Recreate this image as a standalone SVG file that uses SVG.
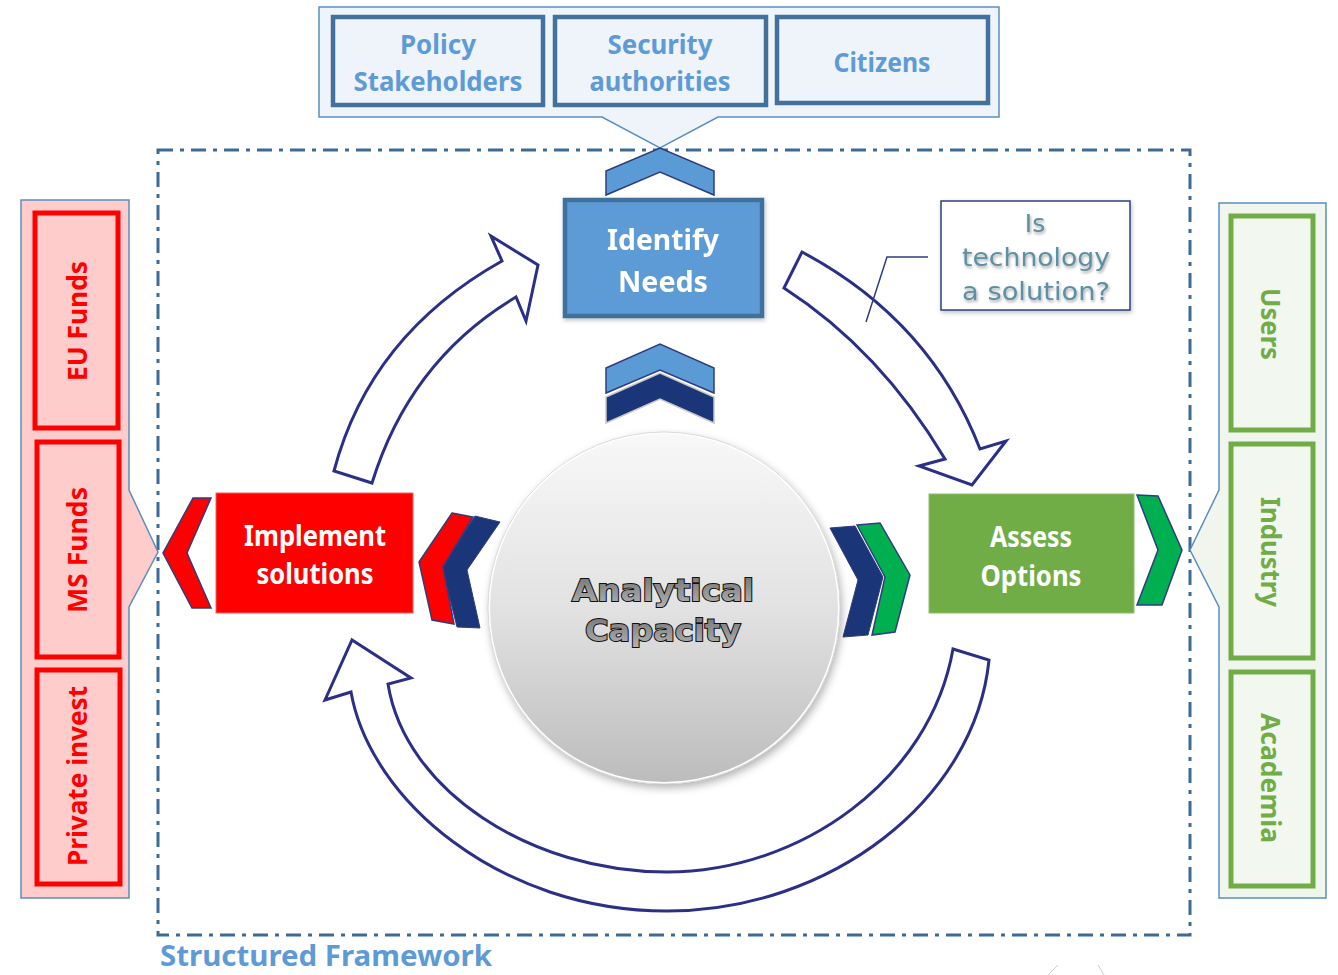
<svg xmlns="http://www.w3.org/2000/svg" width="1338" height="975" viewBox="0 0 1338 975">
<defs>
<style>
.frame{fill:none;stroke:#3d6b97;stroke-width:3;stroke-dasharray:15 7 4 7}
.callout{fill:#eef4fa;stroke:#5b8ec0;stroke-width:1.5}
.cbox{fill:#eef4fa;stroke:#41719c;stroke-width:4.5}
.ctext{font-family:"Noto Sans","Open Sans",sans-serif;font-weight:700;font-size:27px;fill:#5e9bd6;text-anchor:middle}
.btext{font-family:"Noto Sans","Open Sans",sans-serif;font-weight:700;font-size:29px;fill:#ffffff;text-anchor:middle}
.arrow{fill:#ffffff;stroke:#2b2f86;stroke-width:3;stroke-linejoin:miter}
.chev{stroke:#2f3c80;stroke-width:1.5;stroke-linejoin:miter}
.lpanel{fill:#ffcccc;stroke:#5b8ec0;stroke-width:1.5}
.lbox{fill:#ffcccc;stroke:#ff0000;stroke-width:5}
.ltext{font-family:"Noto Sans","Open Sans",sans-serif;font-weight:700;font-size:26px;fill:#ff0000;text-anchor:middle}
.rpanel{fill:#f0f6ee;stroke:#5b8ec0;stroke-width:1.5}
.rbox{fill:#f2f7ef;stroke:#70ad47;stroke-width:5}
.rtext{font-family:"Noto Sans","Open Sans",sans-serif;font-weight:700;font-size:26px;fill:#70ad47;text-anchor:middle}
.qtext{font-family:"DejaVu Sans","Verdana",sans-serif;font-size:25px;fill:#5e8fa3;text-anchor:middle}
</style>
<linearGradient id="sphere" x1="0" y1="0" x2="0" y2="1">
<stop offset="0" stop-color="#f8f8f8"/>
<stop offset="0.5" stop-color="#e2e2e2"/>
<stop offset="1" stop-color="#bcbcbc"/>
</linearGradient>
<linearGradient id="txtgrad" x1="0" y1="0" x2="0" y2="1">
<stop offset="0" stop-color="#6f6f6f"/>
<stop offset="1" stop-color="#b4b4b4"/>
</linearGradient>
<filter id="shadow" x="-20%" y="-20%" width="140%" height="140%">
<feDropShadow dx="2" dy="4" stdDeviation="4" flood-color="#000" flood-opacity="0.3"/>
</filter>
<filter id="tshadow" x="-10%" y="-10%" width="120%" height="130%">
<feDropShadow dx="1" dy="2" stdDeviation="1.5" flood-color="#000" flood-opacity="0.35"/>
</filter>
<filter id="small" x="-20%" y="-20%" width="140%" height="140%">
<feDropShadow dx="1" dy="2" stdDeviation="2" flood-color="#000" flood-opacity="0.25"/>
</filter>
</defs>
<rect width="1338" height="975" fill="#ffffff"/>

<!-- frame -->
<g id="structured-framework">
<rect class="frame" x="158" y="150" width="1032" height="785"/>
<text x="160" y="966" font-family="'Noto Sans','Open Sans',sans-serif" font-weight="700" font-size="29" fill="#5e9bd6" textLength="332" lengthAdjust="spacingAndGlyphs">Structured Framework</text>
</g>

<!-- top callout -->
<g id="stakeholders-panel">
<path class="callout" d="M319,7 H999 V117 H718 L660,148 L602,117 H319 Z"/>
<g id="policy-stakeholders">
<rect class="cbox" x="333" y="17" width="210" height="88"/>
<text class="ctext" x="438" y="54" textLength="76" lengthAdjust="spacingAndGlyphs">Policy</text>
<text class="ctext" x="438" y="91" textLength="169" lengthAdjust="spacingAndGlyphs">Stakeholders</text>
</g>
<g id="security-authorities">
<rect class="cbox" x="555" y="17" width="211" height="88"/>
<text class="ctext" x="660" y="54" textLength="105" lengthAdjust="spacingAndGlyphs">Security</text>
<text class="ctext" x="660" y="91" textLength="141" lengthAdjust="spacingAndGlyphs">authorities</text>
</g>
<g id="citizens">
<rect class="cbox" x="777" y="17" width="211" height="86"/>
<text class="ctext" x="882" y="72" textLength="97" lengthAdjust="spacingAndGlyphs">Citizens</text>
</g>
</g>

<!-- left panel -->
<g id="funding-panel">
<path class="lpanel" d="M21,200 H129 V490 L158,552 L129,607 V898 H21 Z"/>
<g id="eu-funds">
<rect class="lbox" x="35" y="213" width="83" height="215"/>
<text class="ltext" transform="translate(87,321) rotate(-90)" textLength="120" lengthAdjust="spacingAndGlyphs">EU Funds</text>
</g>
<g id="ms-funds">
<rect class="lbox" x="37" y="442" width="82" height="215"/>
<text class="ltext" transform="translate(87,550) rotate(-90)" textLength="126" lengthAdjust="spacingAndGlyphs">MS Funds</text>
</g>
<g id="private-invest">
<rect class="lbox" x="37" y="670" width="83" height="214"/>
<text class="ltext" transform="translate(87,776) rotate(-90)" textLength="180" lengthAdjust="spacingAndGlyphs">Private invest</text>
</g>
</g>

<!-- right panel -->
<g id="partners-panel">
<path class="rpanel" d="M1219,203 H1326 V898 H1219 V607 L1190,550 L1219,490 Z"/>
<g id="users">
<rect class="rbox" x="1231" y="216" width="82" height="214"/>
<text class="rtext" transform="translate(1261,324) rotate(90)" textLength="72" lengthAdjust="spacingAndGlyphs">Users</text>
</g>
<g id="industry">
<rect class="rbox" x="1231" y="444" width="82" height="214"/>
<text class="rtext" transform="translate(1261,552) rotate(90)" textLength="110" lengthAdjust="spacingAndGlyphs">Industry</text>
</g>
<g id="academia">
<rect class="rbox" x="1231" y="672" width="82" height="214"/>
<text class="rtext" transform="translate(1261,778) rotate(90)" textLength="130" lengthAdjust="spacingAndGlyphs">Academia</text>
</g>
</g>

<!-- connectors -->
<g id="connectors">
<path class="arrow" d="M334,471 Q370,335 502,261 L491,236 L538,265 L526,321 L516,297 Q410,360 372,483 Z"/>
<path class="arrow" d="M802,252 Q930,320 980,449 L1006,441 L972,485 L919,466 L945,459 Q880,350 784,288 Z"/>
<path class="arrow" d="M989,660 C975,800 830,911 667,911 C500,911 370,800 351,692 L325,700 L352,640 L411,678 L388,684 C405,790 530,872 667,872 C800,872 930,780 953,649 Z"/>
<path d="M928,257 H887 L866,322" fill="none" stroke="#2f3c80" stroke-width="1.5"/>
<polygon class="chev" fill="#5b9bd5" points="606,171 660,148 714,171 714,195 660,172 606,195"/>
<polygon class="chev" fill="#5b9bd5" points="606,368 660,344 714,368 714,393 660,370 606,393"/>
<polygon fill="#1a3578" stroke="#c8c8c8" stroke-width="1.5" points="606,397 660,373 714,397 714,423 660,399 606,423"/>
<polygon class="chev" fill="#ff0000" points="193,498 211,498 187,553 211,608 192,608 163,553"/>
<polygon fill="#1a3578" stroke="#2f3c80" stroke-width="1" points="475,516 500,522 467,570 480,628 457,627 442,567"/>
<polygon class="chev" fill="#ff0000" points="452,513 473,517 443,567 454,624 432,620 419,562"/>
<polygon fill="#1a3578" stroke="#2f3c80" stroke-width="1" points="830,528 855,526 883,577 868,635 843,637 858,580"/>
<polygon class="chev" fill="#00b050" points="857,525 880,523 910,575 895,632 872,635 885,577"/>
<polygon class="chev" fill="#00b050" points="1137,495 1158,496 1182,550 1162,605 1137,605 1158,550"/>
</g>

<!-- Identify Needs -->
<g id="identify-needs" filter="url(#small)">
<rect x="565" y="200" width="197" height="116" fill="#5b9bd5" stroke="#41719c" stroke-width="4.5"/>
<text class="btext" x="663" y="250" textLength="112" lengthAdjust="spacingAndGlyphs">Identify</text>
<text class="btext" x="663" y="292" textLength="90" lengthAdjust="spacingAndGlyphs">Needs</text>
</g>

<!-- Implement solutions -->
<g id="implement-solutions">
<rect x="216" y="493" width="197" height="120" fill="#ff0000" stroke="#f06060" stroke-width="1"/>
<text class="btext" x="315" y="546" textLength="142" lengthAdjust="spacingAndGlyphs">Implement</text>
<text class="btext" x="315" y="584" textLength="117" lengthAdjust="spacingAndGlyphs">solutions</text>
</g>

<!-- Assess Options -->
<g id="assess-options">
<rect x="929" y="494" width="205" height="119" fill="#70ad47" stroke="#8cbf6a" stroke-width="1"/>
<text class="btext" x="1031" y="547" textLength="82" lengthAdjust="spacingAndGlyphs">Assess</text>
<text class="btext" x="1031" y="586" textLength="101" lengthAdjust="spacingAndGlyphs">Options</text>
</g>

<!-- Analytical Capacity -->
<g id="analytical-capacity">
<circle cx="664" cy="608" r="175" fill="url(#sphere)" stroke="#ffffff" stroke-width="2" filter="url(#shadow)"/>
<circle cx="664" cy="608" r="176" fill="none" stroke="#cfcfcf" stroke-width="0.8"/>
<g font-family="'DejaVu Sans',Verdana,sans-serif" font-weight="700" font-size="31" fill="url(#txtgrad)" stroke="#111111" stroke-width="2" text-anchor="middle" paint-order="stroke">
<text x="663" y="601" textLength="182" lengthAdjust="spacingAndGlyphs">Analytical</text>
<text x="663" y="641" textLength="156" lengthAdjust="spacingAndGlyphs">Capacity</text>
</g>
</g>

<!-- question -->
<g id="technology-question">
<rect x="941" y="201" width="189" height="109" fill="#ffffff" stroke="#2f3c80" stroke-width="1.5" filter="url(#small)"/>
<g filter="url(#tshadow)">
<text class="qtext" x="1035" y="232">Is</text>
<text class="qtext" x="1036" y="266" textLength="148" lengthAdjust="spacingAndGlyphs">technology</text>
<text class="qtext" x="1036" y="300" textLength="148" lengthAdjust="spacingAndGlyphs">a solution?</text>
</g>
</g>

<g id="marks" stroke="#cccccc" stroke-width="1" fill="none">
<path d="M1048,975 L1058,965"/>
<path d="M1098,965 L1104,975"/>
</g>
</svg>
